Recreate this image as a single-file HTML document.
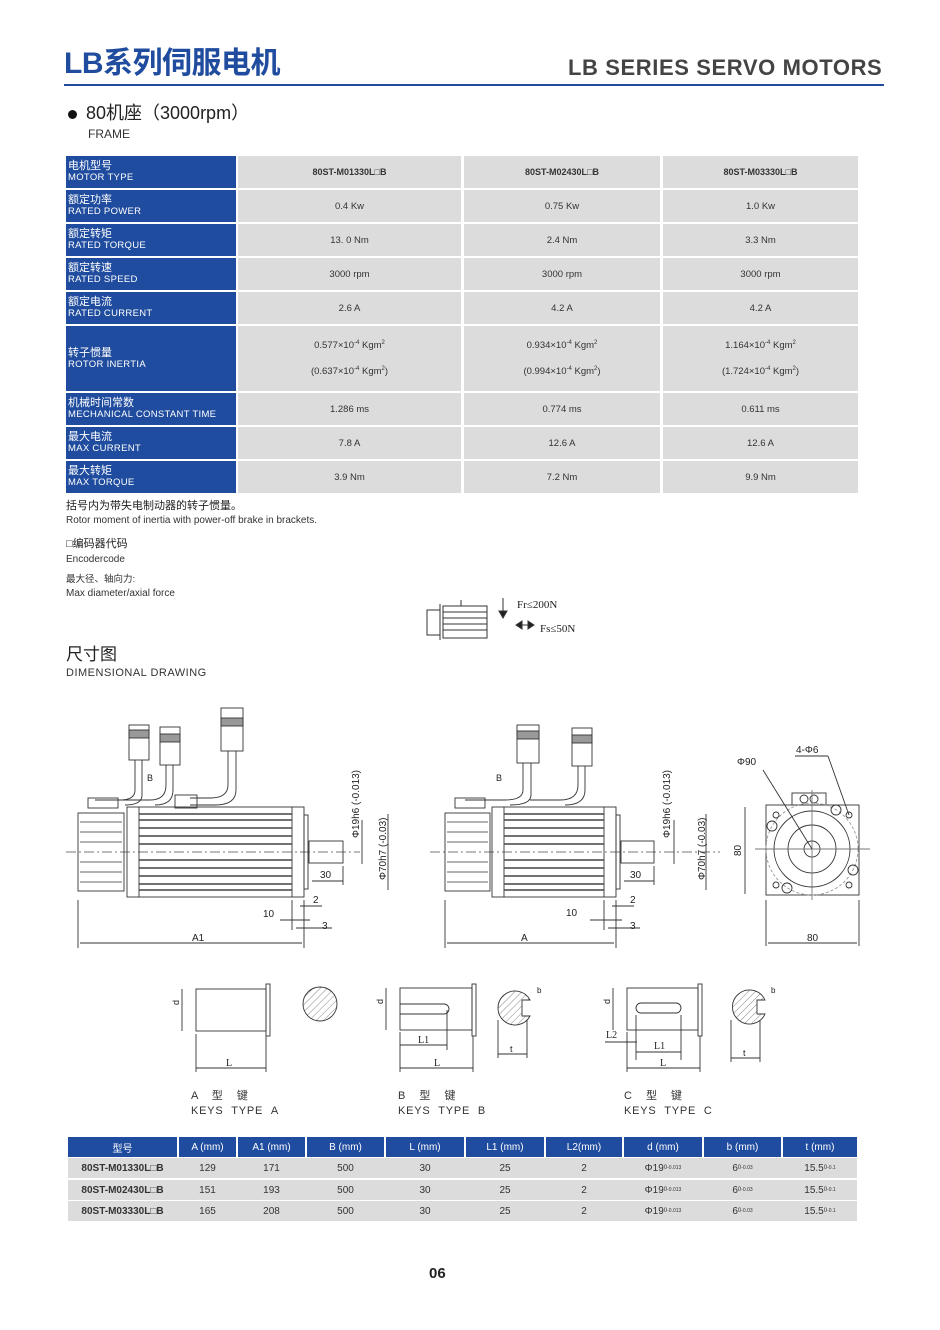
<!DOCTYPE html>
<html><head><meta charset="utf-8"><style>
body{margin:0;background:#fff;}
#p{position:relative;width:940px;height:1330px;overflow:hidden;font-family:"Liberation Sans","Noto Sans CJK SC",sans-serif;color:#222;}
.a{position:absolute;line-height:1.15;}
.c{position:absolute;background:#dcdcdc;display:flex;align-items:center;justify-content:center;font-size:9.5px;color:#333;}
.h{position:absolute;background:#1f4c9e;color:#fff;font-size:11px;line-height:11px;padding-left:2px;box-sizing:border-box;display:flex;flex-direction:column;justify-content:center;}
.h small{font-size:9.5px;letter-spacing:.3px}
.b{font-weight:bold;font-size:9px}
.t{position:absolute;font-size:10px;color:#333;display:flex;align-items:center;justify-content:center;}
</style></head><body><div id="p">
<div class="a" style="left:64px;top:47px;font-size:30px;font-weight:bold;color:#1f4c9e;letter-spacing:-0.5px">LB系列伺服电机</div>
<div class="a" style="left:568px;top:55px;font-size:22px;font-weight:bold;color:#444;letter-spacing:0.6px">LB SERIES SERVO MOTORS</div>
<div class="a" style="left:64px;top:84px;width:820px;height:2px;background:#1f4c9e"></div>
<div class="a" style="left:68px;top:110px;width:9px;height:9px;border-radius:50%;background:#111"></div>
<div class="a" style="left:86px;top:103px;font-size:18px;color:#222">80机座（3000rpm）</div>
<div class="a" style="left:88px;top:128px;font-size:12px;color:#333">FRAME</div>

<!-- spec table -->
<div class="h" style="left:66px;top:156px;width:170px;height:32px">电机型号<small>MOTOR TYPE</small></div>
<div class="c b" style="left:238px;top:156px;width:223px;height:32px">80ST-M01330L□B</div>
<div class="c b" style="left:464px;top:156px;width:196px;height:32px">80ST-M02430L□B</div>
<div class="c b" style="left:663px;top:156px;width:195px;height:32px">80ST-M03330L□B</div>

<div class="h" style="left:66px;top:190px;width:170px;height:32px">额定功率<small>RATED POWER</small></div>
<div class="c" style="left:238px;top:190px;width:223px;height:32px">0.4 Kw</div>
<div class="c" style="left:464px;top:190px;width:196px;height:32px">0.75 Kw</div>
<div class="c" style="left:663px;top:190px;width:195px;height:32px">1.0 Kw</div>

<div class="h" style="left:66px;top:224px;width:170px;height:32px">额定转矩<small>RATED TORQUE</small></div>
<div class="c" style="left:238px;top:224px;width:223px;height:32px">13. 0 Nm</div>
<div class="c" style="left:464px;top:224px;width:196px;height:32px">2.4 Nm</div>
<div class="c" style="left:663px;top:224px;width:195px;height:32px">3.3 Nm</div>

<div class="h" style="left:66px;top:258px;width:170px;height:32px">额定转速<small>RATED SPEED</small></div>
<div class="c" style="left:238px;top:258px;width:223px;height:32px">3000 rpm</div>
<div class="c" style="left:464px;top:258px;width:196px;height:32px">3000 rpm</div>
<div class="c" style="left:663px;top:258px;width:195px;height:32px">3000 rpm</div>

<div class="h" style="left:66px;top:292px;width:170px;height:32px">额定电流<small>RATED CURRENT</small></div>
<div class="c" style="left:238px;top:292px;width:223px;height:32px">2.6 A</div>
<div class="c" style="left:464px;top:292px;width:196px;height:32px">4.2 A</div>
<div class="c" style="left:663px;top:292px;width:195px;height:32px">4.2 A</div>

<div class="h" style="left:66px;top:326px;width:170px;height:65px">转子惯量<small>ROTOR INERTIA</small></div>
<div class="c" style="left:238px;top:326px;width:223px;height:65px;flex-direction:column;gap:14px"><span>0.577×10<sup style="font-size:6px">-4</sup> Kgm<sup style="font-size:6px">2</sup></span><span>(0.637×10<sup style="font-size:6px">-4</sup> Kgm<sup style="font-size:6px">2</sup>)</span></div>
<div class="c" style="left:464px;top:326px;width:196px;height:65px;flex-direction:column;gap:14px"><span>0.934×10<sup style="font-size:6px">-4</sup> Kgm<sup style="font-size:6px">2</sup></span><span>(0.994×10<sup style="font-size:6px">-4</sup> Kgm<sup style="font-size:6px">2</sup>)</span></div>
<div class="c" style="left:663px;top:326px;width:195px;height:65px;flex-direction:column;gap:14px"><span>1.164×10<sup style="font-size:6px">-4</sup> Kgm<sup style="font-size:6px">2</sup></span><span>(1.724×10<sup style="font-size:6px">-4</sup> Kgm<sup style="font-size:6px">2</sup>)</span></div>

<div class="h" style="left:66px;top:393px;width:170px;height:32px">机械时间常数<small>MECHANICAL CONSTANT TIME</small></div>
<div class="c" style="left:238px;top:393px;width:223px;height:32px">1.286 ms</div>
<div class="c" style="left:464px;top:393px;width:196px;height:32px">0.774 ms</div>
<div class="c" style="left:663px;top:393px;width:195px;height:32px">0.611 ms</div>

<div class="h" style="left:66px;top:427px;width:170px;height:32px">最大电流<small>MAX  CURRENT</small></div>
<div class="c" style="left:238px;top:427px;width:223px;height:32px">7.8 A</div>
<div class="c" style="left:464px;top:427px;width:196px;height:32px">12.6 A</div>
<div class="c" style="left:663px;top:427px;width:195px;height:32px">12.6 A</div>

<div class="h" style="left:66px;top:461px;width:170px;height:32px">最大转矩<small>MAX TORQUE</small></div>
<div class="c" style="left:238px;top:461px;width:223px;height:32px">3.9 Nm</div>
<div class="c" style="left:464px;top:461px;width:196px;height:32px">7.2 Nm</div>
<div class="c" style="left:663px;top:461px;width:195px;height:32px">9.9 Nm</div>

<div class="a" style="left:66px;top:500px;font-size:11px">括号内为带失电制动器的转子惯量。</div>
<div class="a" style="left:66px;top:515px;font-size:10px;color:#333">Rotor moment of inertia with power-off brake in brackets.</div>
<div class="a" style="left:66px;top:538px;font-size:11px">□编码器代码</div>
<div class="a" style="left:66px;top:554px;font-size:10px;color:#333">Encodercode</div>
<div class="a" style="left:66px;top:575px;font-size:9.5px;color:#333">最大径、轴向力:</div>
<div class="a" style="left:66px;top:588px;font-size:10px;color:#333">Max diameter/axial force</div>

<div class="a" style="left:66px;top:645px;font-size:17px;color:#222;line-height:20px">尺寸图</div>
<div class="a" style="left:66px;top:667px;font-size:11px;color:#333;letter-spacing:.5px">DIMENSIONAL DRAWING</div>

<svg class="a" style="left:0;top:0" width="940" height="1330" viewBox="0 0 940 1330" fill="none" stroke="#333" stroke-width="1" font-family="Liberation Sans, sans-serif">
<!-- force icon -->
<g stroke-width="1">
<rect x="443" y="606" width="44" height="32"/>
<line x1="443" y1="612" x2="487" y2="612"/><line x1="443" y1="618" x2="487" y2="618"/><line x1="443" y1="624" x2="487" y2="624"/><line x1="443" y1="630" x2="487" y2="630"/>
<line x1="440" y1="604" x2="440" y2="640"/><polyline points="440,610 427,610 427,635 440,635"/>
<line x1="461" y1="600" x2="461" y2="606"/>
<line x1="503" y1="598" x2="503" y2="612"/><path d="M499 611 L503 618 L507 611Z" fill="#222"/>
<line x1="517" y1="625" x2="533" y2="625"/><path d="M516 625 L522 621 L522 629Z M534 625 L528 621 L528 629Z" fill="#222"/>
</g>
<text x="517" y="608" font-family="Liberation Serif, serif" font-size="11" fill="#222" stroke="none">Fr≤200N</text>
<text x="540" y="632" font-family="Liberation Serif, serif" font-size="11" fill="#222" stroke="none">Fs≤50N</text>

<!-- motor 1 -->
<g stroke-width="0.9">
<line x1="66" y1="852" x2="360" y2="852" stroke-dasharray="10,3,2,3" stroke="#777"/>
<rect x="78" y="813" width="46" height="78"/>
<g stroke="#666"><line x1="80" y1="822" x2="122" y2="822"/><line x1="80" y1="832" x2="122" y2="832"/><line x1="80" y1="842" x2="122" y2="842"/><line x1="80" y1="862" x2="122" y2="862"/><line x1="80" y1="872" x2="122" y2="872"/><line x1="80" y1="882" x2="122" y2="882"/></g>
<rect x="127" y="807" width="177" height="90"/>
<line x1="139" y1="807" x2="139" y2="897"/><line x1="292" y1="807" x2="292" y2="897"/>
<g stroke="#444" stroke-width="1.5"><line x1="139" y1="814" x2="292" y2="814"/><line x1="139" y1="820" x2="292" y2="820"/><line x1="139" y1="828" x2="292" y2="828"/><line x1="139" y1="836" x2="292" y2="836"/><line x1="139" y1="844" x2="292" y2="844"/><line x1="139" y1="860" x2="292" y2="860"/><line x1="139" y1="868" x2="292" y2="868"/><line x1="139" y1="876" x2="292" y2="876"/><line x1="139" y1="884" x2="292" y2="884"/><line x1="139" y1="890" x2="292" y2="890"/></g>
<rect x="304" y="815" width="4" height="74"/>
<rect x="309" y="841" width="34" height="22"/>
<rect x="129" y="725" width="20" height="35"/><rect x="129" y="730" width="20" height="8" fill="#999"/>
<rect x="160" y="727" width="20" height="38"/><rect x="160" y="734" width="20" height="8" fill="#999"/>
<rect x="221" y="708" width="22" height="43"/><rect x="221" y="718" width="22" height="8" fill="#999"/>
<path d="M135 760 V790 Q135 800 120 800 H95 M142 760 V795 Q142 805 125 805"/>
<path d="M166 765 V785 Q166 800 150 800 H120 M173 765 V790 Q173 805 155 805"/>
<path d="M228 751 V785 Q228 798 210 798 H190 M236 751 V790 Q236 805 215 805 H190"/>
<rect x="175" y="795" width="22" height="13"/><rect x="88" y="798" width="30" height="10"/>
<text x="147" y="781" font-size="9" fill="#222" stroke="none">B</text>
<line x1="78" y1="900" x2="78" y2="948"/><line x1="304" y1="900" x2="304" y2="948"/>
<line x1="80" y1="943" x2="302" y2="943"/>
<text x="192" y="941" font-size="10" fill="#222" stroke="none">A1</text>
<line x1="343" y1="866" x2="343" y2="885"/><line x1="312" y1="881" x2="343" y2="881"/>
<text x="320" y="878" font-size="10" fill="#222" stroke="none">30</text>
<line x1="292" y1="900" x2="292" y2="930"/><line x1="300" y1="906" x2="322" y2="906"/>
<text x="313" y="903" font-size="10" fill="#222" stroke="none">2</text>
<line x1="280" y1="920" x2="310" y2="920"/><text x="263" y="917" font-size="10" fill="#222" stroke="none">10</text>
<line x1="296" y1="928" x2="332" y2="928"/><text x="322" y="929" font-size="10" fill="#222" stroke="none">3</text>
<line x1="362" y1="820" x2="362" y2="864"/><line x1="388" y1="814" x2="388" y2="890"/>
<text transform="translate(359,838) rotate(-90)" font-size="10" fill="#222" stroke="none">Φ19h6 (-0.013)</text>
<text transform="translate(386,880) rotate(-90)" font-size="10" fill="#222" stroke="none">Φ70h7 (-0.03)</text>
</g>

<!-- motor 2 -->
<g stroke-width="0.9">
<line x1="430" y1="852" x2="720" y2="852" stroke-dasharray="10,3,2,3" stroke="#777"/>
<rect x="445" y="813" width="45" height="78"/>
<g stroke="#666"><line x1="447" y1="822" x2="488" y2="822"/><line x1="447" y1="832" x2="488" y2="832"/><line x1="447" y1="842" x2="488" y2="842"/><line x1="447" y1="862" x2="488" y2="862"/><line x1="447" y1="872" x2="488" y2="872"/><line x1="447" y1="882" x2="488" y2="882"/></g>
<rect x="492" y="807" width="124" height="90"/>
<line x1="504" y1="807" x2="504" y2="897"/><line x1="604" y1="807" x2="604" y2="897"/>
<g stroke="#444" stroke-width="1.5"><line x1="504" y1="814" x2="604" y2="814"/><line x1="504" y1="820" x2="604" y2="820"/><line x1="504" y1="828" x2="604" y2="828"/><line x1="504" y1="836" x2="604" y2="836"/><line x1="504" y1="844" x2="604" y2="844"/><line x1="504" y1="860" x2="604" y2="860"/><line x1="504" y1="868" x2="604" y2="868"/><line x1="504" y1="876" x2="604" y2="876"/><line x1="504" y1="884" x2="604" y2="884"/><line x1="504" y1="890" x2="604" y2="890"/></g>
<rect x="616" y="815" width="4" height="74"/>
<rect x="621" y="841" width="33" height="22"/>
<rect x="517" y="725" width="22" height="38"/><rect x="517" y="731" width="22" height="8" fill="#999"/>
<rect x="572" y="728" width="20" height="38"/><rect x="572" y="735" width="20" height="8" fill="#999"/>
<path d="M523 763 V790 Q523 800 505 800 H465 M531 763 V795 Q531 805 510 805"/>
<path d="M578 766 V785 Q578 800 560 800 H530 M585 766 V790 Q585 805 565 805"/>
<rect x="455" y="798" width="30" height="10"/>
<text x="496" y="781" font-size="9" fill="#222" stroke="none">B</text>
<line x1="445" y1="900" x2="445" y2="948"/><line x1="616" y1="900" x2="616" y2="948"/>
<line x1="447" y1="943" x2="614" y2="943"/>
<text x="521" y="941" font-size="10" fill="#222" stroke="none">A</text>
<line x1="654" y1="866" x2="654" y2="885"/><line x1="624" y1="881" x2="654" y2="881"/>
<text x="630" y="878" font-size="10" fill="#222" stroke="none">30</text>
<line x1="604" y1="900" x2="604" y2="930"/><line x1="612" y1="906" x2="634" y2="906"/>
<text x="630" y="903" font-size="10" fill="#222" stroke="none">2</text>
<line x1="590" y1="920" x2="622" y2="920"/><text x="566" y="916" font-size="10" fill="#222" stroke="none">10</text>
<line x1="608" y1="928" x2="640" y2="928"/><text x="630" y="929" font-size="10" fill="#222" stroke="none">3</text>
<line x1="674" y1="820" x2="674" y2="864"/><line x1="706" y1="814" x2="706" y2="890"/>
<text transform="translate(670,838) rotate(-90)" font-size="10" fill="#222" stroke="none">Φ19h6 (-0.013)</text>
<text transform="translate(705,880) rotate(-90)" font-size="10" fill="#222" stroke="none">Φ70h7 (-0.03)</text>
</g>

<!-- front view -->
<g stroke-width="0.9">
<rect x="766" y="805" width="93" height="90"/>
<rect x="792" y="793" width="34" height="12"/><circle cx="804" cy="799" r="4"/><circle cx="814" cy="799" r="4"/>
<circle cx="812" cy="849" r="46" stroke="#999" stroke-dasharray="3,2"/>
<circle cx="812" cy="849" r="38"/><circle cx="812" cy="849" r="24"/><circle cx="812" cy="849" r="8"/>
<circle cx="776" cy="815" r="3"/><circle cx="849" cy="815" r="3"/><circle cx="776" cy="885" r="3"/><circle cx="849" cy="885" r="3"/>
<circle cx="772" cy="826" r="5"/><circle cx="836" cy="810" r="5"/><circle cx="787" cy="888" r="5"/><circle cx="853" cy="870" r="5"/>
<line x1="755" y1="849" x2="870" y2="849" stroke="#777"/><line x1="812" y1="790" x2="812" y2="900" stroke="#777"/>
<line x1="745" y1="807" x2="745" y2="894"/><text transform="translate(741,856) rotate(-90)" font-size="10" fill="#222" stroke="none">80</text>
<line x1="766" y1="900" x2="766" y2="946"/><line x1="859" y1="900" x2="859" y2="946"/>
<line x1="768" y1="943" x2="857" y2="943"/><text x="807" y="941" font-size="10" fill="#222" stroke="none">80</text>
<line x1="763" y1="770" x2="812" y2="849"/><line x1="795" y1="756" x2="828" y2="756"/><line x1="828" y1="756" x2="849" y2="815"/>
<text x="737" y="765" font-size="10" fill="#222" stroke="none">Φ90</text>
<text x="796" y="753" font-size="10" fill="#222" stroke="none">4-Φ6</text>
</g>

<!-- keys -->
<defs><pattern id="hat" width="5" height="5" patternUnits="userSpaceOnUse" patternTransform="rotate(45)"><line x1="0" y1="0" x2="0" y2="5" stroke="#888" stroke-width="1"/></pattern></defs>
<g stroke-width="0.9">
<rect x="196" y="989" width="70" height="42"/><rect x="266" y="984" width="4" height="52"/>
<circle cx="320" cy="1004" r="17" fill="url(#hat)"/>
<line x1="182" y1="989" x2="182" y2="1031"/><text transform="translate(179,1005) rotate(-90)" font-size="9" fill="#222" stroke="none">d</text>
<line x1="196" y1="1034" x2="196" y2="1072"/><line x1="266" y1="1036" x2="266" y2="1072"/><line x1="196" y1="1068" x2="266" y2="1068"/>
<text x="226" y="1066" font-size="10" fill="#222" stroke="none" font-family="Liberation Serif,serif">L</text>

<rect x="400" y="988" width="72" height="42"/><rect x="472" y="984" width="4" height="52"/>
<path d="M400 1004 H444 A5 5 0 0 1 444 1014 H400"/>
<path d="M530 1000 A17 17 0 1 0 530 1016 H522 V1000Z" fill="url(#hat)"/>
<line x1="386" y1="988" x2="386" y2="1030"/><text transform="translate(383,1004) rotate(-90)" font-size="9" fill="#222" stroke="none">d</text>
<line x1="400" y1="1032" x2="400" y2="1072"/><line x1="473" y1="1036" x2="473" y2="1072"/><line x1="400" y1="1068" x2="473" y2="1068"/>
<line x1="400" y1="1045" x2="447" y2="1045"/><line x1="447" y1="1010" x2="447" y2="1050"/>
<text x="418" y="1043" font-size="10" fill="#222" stroke="none" font-family="Liberation Serif,serif">L1</text>
<text x="434" y="1066" font-size="10" fill="#222" stroke="none" font-family="Liberation Serif,serif">L</text>
<line x1="498" y1="1020" x2="498" y2="1058"/><line x1="527" y1="1020" x2="527" y2="1058"/><line x1="498" y1="1054" x2="527" y2="1054"/>
<text x="510" y="1052" font-size="9" fill="#222" stroke="none">t</text>
<text x="537" y="993" font-size="8" fill="#222" stroke="none">b</text>

<rect x="627" y="988" width="71" height="42"/><rect x="698" y="984" width="4" height="52"/>
<rect x="636" y="1003" width="45" height="10" rx="5"/>
<path d="M765 1000 A17 17 0 1 0 765 1014 H757 V1000Z" fill="url(#hat)"/>
<line x1="613" y1="988" x2="613" y2="1030"/><text transform="translate(610,1004) rotate(-90)" font-size="9" fill="#222" stroke="none">d</text>
<line x1="627" y1="1032" x2="627" y2="1072"/><line x1="700" y1="1036" x2="700" y2="1072"/><line x1="627" y1="1068" x2="700" y2="1068"/>
<line x1="605" y1="1042" x2="637" y2="1042"/><line x1="636" y1="1015" x2="636" y2="1060"/><line x1="681" y1="1015" x2="681" y2="1060"/>
<line x1="636" y1="1052" x2="681" y2="1052"/>
<text x="606" y="1038" font-size="10" fill="#222" stroke="none" font-family="Liberation Serif,serif">L2</text>
<text x="654" y="1049" font-size="10" fill="#222" stroke="none" font-family="Liberation Serif,serif">L1</text>
<text x="660" y="1066" font-size="10" fill="#222" stroke="none" font-family="Liberation Serif,serif">L</text>
<line x1="731" y1="1020" x2="731" y2="1062"/><line x1="760" y1="1020" x2="760" y2="1062"/><line x1="731" y1="1058" x2="760" y2="1058"/>
<text x="743" y="1056" font-size="9" fill="#222" stroke="none">t</text>
<text x="771" y="993" font-size="8" fill="#222" stroke="none">b</text>
</g>
</svg>

<div class="a" style="left:191px;top:1090px;font-size:11px;color:#333">A　 型　 键</div>
<div class="a" style="left:191px;top:1105px;font-size:11px;color:#333;letter-spacing:.8px">KEYS &nbsp;TYPE &nbsp;A</div>
<div class="a" style="left:398px;top:1090px;font-size:11px;color:#333">B　 型　 键</div>
<div class="a" style="left:398px;top:1105px;font-size:11px;color:#333;letter-spacing:.8px">KEYS &nbsp;TYPE &nbsp;B</div>
<div class="a" style="left:624px;top:1090px;font-size:11px;color:#333">C　 型　 键</div>
<div class="a" style="left:624px;top:1105px;font-size:11px;color:#333;letter-spacing:.8px">KEYS &nbsp;TYPE &nbsp;C</div>

<!-- bottom table -->
<div class="t" style="left:68px;top:1137px;width:109px;height:20px;background:#1f4c9e;color:#fff">型号</div>
<div class="t" style="left:179px;top:1137px;width:57px;height:20px;background:#1f4c9e;color:#fff">A (mm)</div>
<div class="t" style="left:238px;top:1137px;width:67px;height:20px;background:#1f4c9e;color:#fff">A1 (mm)</div>
<div class="t" style="left:307px;top:1137px;width:77px;height:20px;background:#1f4c9e;color:#fff">B (mm)</div>
<div class="t" style="left:386px;top:1137px;width:78px;height:20px;background:#1f4c9e;color:#fff">L (mm)</div>
<div class="t" style="left:466px;top:1137px;width:78px;height:20px;background:#1f4c9e;color:#fff">L1 (mm)</div>
<div class="t" style="left:546px;top:1137px;width:76px;height:20px;background:#1f4c9e;color:#fff">L2(mm)</div>
<div class="t" style="left:624px;top:1137px;width:78px;height:20px;background:#1f4c9e;color:#fff">d (mm)</div>
<div class="t" style="left:704px;top:1137px;width:77px;height:20px;background:#1f4c9e;color:#fff">b (mm)</div>
<div class="t" style="left:783px;top:1137px;width:74px;height:20px;background:#1f4c9e;color:#fff">t (mm)</div>

<div class="a" style="left:68px;top:1158px;width:789px;height:63px;background:#dcdcdc"></div>
<div class="a" style="left:68px;top:1178px;width:789px;height:2px;background:#fff"></div>
<div class="a" style="left:68px;top:1200px;width:789px;height:1px;background:#fff"></div>

<div class="t b" style="left:68px;top:1158px;width:109px;height:20px">80ST-M01330L□B</div>
<div class="t b" style="left:68px;top:1180px;width:109px;height:20px">80ST-M02430L□B</div>
<div class="t b" style="left:68px;top:1201px;width:109px;height:20px">80ST-M03330L□B</div>
<div class="t" style="left:179px;top:1158px;width:57px;height:20px">129</div>
<div class="t" style="left:179px;top:1180px;width:57px;height:20px">151</div>
<div class="t" style="left:179px;top:1201px;width:57px;height:20px">165</div>
<div class="t" style="left:238px;top:1158px;width:67px;height:20px">171</div>
<div class="t" style="left:238px;top:1180px;width:67px;height:20px">193</div>
<div class="t" style="left:238px;top:1201px;width:67px;height:20px">208</div>
<div class="t" style="left:307px;top:1158px;width:77px;height:20px">500</div>
<div class="t" style="left:307px;top:1180px;width:77px;height:20px">500</div>
<div class="t" style="left:307px;top:1201px;width:77px;height:20px">500</div>
<div class="t" style="left:386px;top:1158px;width:78px;height:20px">30</div>
<div class="t" style="left:386px;top:1180px;width:78px;height:20px">30</div>
<div class="t" style="left:386px;top:1201px;width:78px;height:20px">30</div>
<div class="t" style="left:466px;top:1158px;width:78px;height:20px">25</div>
<div class="t" style="left:466px;top:1180px;width:78px;height:20px">25</div>
<div class="t" style="left:466px;top:1201px;width:78px;height:20px">25</div>
<div class="t" style="left:546px;top:1158px;width:76px;height:20px">2</div>
<div class="t" style="left:546px;top:1180px;width:76px;height:20px">2</div>
<div class="t" style="left:546px;top:1201px;width:76px;height:20px">2</div>
<div class="t" style="left:624px;top:1158px;width:78px;height:20px">Φ19<sup style="font-size:6px">0</sup><sub style="font-size:5px">-0.013</sub></div>
<div class="t" style="left:624px;top:1180px;width:78px;height:20px">Φ19<sup style="font-size:6px">0</sup><sub style="font-size:5px">-0.013</sub></div>
<div class="t" style="left:624px;top:1201px;width:78px;height:20px">Φ19<sup style="font-size:6px">0</sup><sub style="font-size:5px">-0.013</sub></div>
<div class="t" style="left:704px;top:1158px;width:77px;height:20px">6<sup style="font-size:6px">0</sup><sub style="font-size:5px">-0.03</sub></div>
<div class="t" style="left:704px;top:1180px;width:77px;height:20px">6<sup style="font-size:6px">0</sup><sub style="font-size:5px">-0.03</sub></div>
<div class="t" style="left:704px;top:1201px;width:77px;height:20px">6<sup style="font-size:6px">0</sup><sub style="font-size:5px">-0.03</sub></div>
<div class="t" style="left:783px;top:1158px;width:74px;height:20px">15.5<sup style="font-size:6px">0</sup><sub style="font-size:5px">-0.1</sub></div>
<div class="t" style="left:783px;top:1180px;width:74px;height:20px">15.5<sup style="font-size:6px">0</sup><sub style="font-size:5px">-0.1</sub></div>
<div class="t" style="left:783px;top:1201px;width:74px;height:20px">15.5<sup style="font-size:6px">0</sup><sub style="font-size:5px">-0.1</sub></div>

<div class="a" style="left:429px;top:1265px;font-size:15px;font-weight:bold;color:#222">06</div>
</div></body></html>
